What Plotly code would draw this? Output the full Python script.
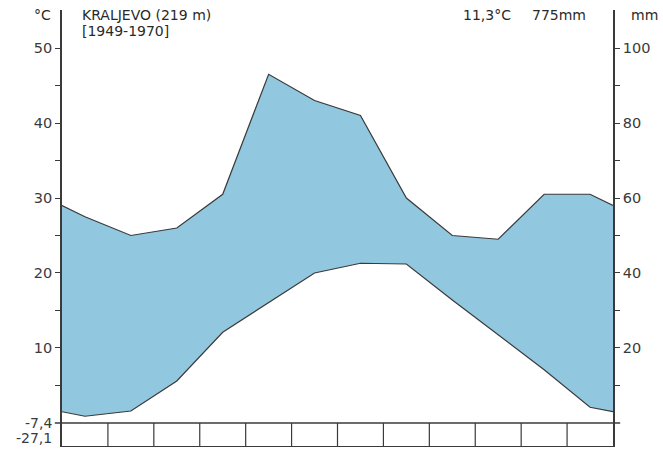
import plotly.graph_objects as go

# Monthly climate normals, Kraljevo (219 m), 1949-1970
months = ["Jan", "Feb", "Mar", "Apr", "May", "Jun", "Jul", "Aug", "Sep", "Oct", "Nov", "Dec"]
temp_c = [0.9, 1.6, 5.6, 12.1, 16.1, 20.0, 21.3, 21.2, 16.4, 11.7, 7.1, 2.1]
precip_mm = [55, 50, 52, 61, 93, 86, 82, 60, 50, 49, 61, 61]

station = "KRALJEVO (219 m)"
period = "[1949-1970]"
mean_temp = "11,3°C"
annual_precip = "775mm"
temp_ticks = [5, 10, 15, 20, 25, 30, 35, 40, 45, 50]
temp_labels = ["", "10", "", "20", "", "30", "", "40", "", "50"]
prec_ticks = [10, 20, 30, 40, 50, 60, 70, 80, 90, 100]
prec_labels = ["", "20", "", "40", "", "60", "", "80", "", "100"]
abs_min_label = "-27,1"
mean_min_label = "-7,4"

FONT = "DejaVu Sans"
INK = "#3a3a3a"
TXT = "#2a2a2a"
FILL = "#92c8df"

# Month centres, with the curve wrapped to both edges (Dec/Jan mean)
x = [0.0] + [i + 0.5 for i in range(12)] + [12.0]
t_edge = (temp_c[0] + temp_c[-1]) / 2
p_edge = (precip_mm[0] + precip_mm[-1]) / 2
t_line = [t_edge] + temp_c + [t_edge]
# precipitation shares the temperature axis at 10 °C = 20 mm
p_line = [v / 2 for v in [p_edge] + precip_mm + [p_edge]]

T_LO, T_HI = -3.07, 55.07

fig = go.Figure()
fig.add_trace(go.Scatter(x=x, y=t_line, mode="lines",
                         line=dict(color=INK, width=1.2), hoverinfo="skip"))
fig.add_trace(go.Scatter(x=x, y=p_line, mode="lines", fill="tonexty",
                         fillcolor=FILL, line=dict(color=INK, width=1.2),
                         hoverinfo="skip"))
# invisible trace to anchor the mm axis
fig.add_trace(go.Scatter(x=[None], y=[None], yaxis="y2", showlegend=False))

shapes = []
# 0-level baseline, slightly wider than the plot
shapes.append(dict(type="line", xref="paper", yref="y", x0=-0.013, x1=1.013,
                   y0=0, y1=0, line=dict(color=INK, width=1.3)))
# month boxes under the baseline
for i in range(1, 12):
    shapes.append(dict(type="line", xref="x", yref="y", x0=i, x1=i,
                       y0=T_LO, y1=0, line=dict(color=INK, width=1.2)))

W, H = 663, 453
L, R, Tm, B = 62, 50, 10, 7
pw, ph = W - L - R, H - Tm - B

# header texts placed in pixel terms
header = [
    ("°C", 32, 15, "left"),
    (station, 80, 15, "left"),
    (period, 80, 31.5, "left"),
    (mean_temp, 461, 15, "left"),
    (annual_precip, 588, 15, "right"),
    ("mm", 629, 15, "left"),
]
anns = []
for text, px, py, anchor in header:
    anns.append(dict(text=text, xref="paper", yref="paper",
                     x=(px - L) / pw, y=1 - (py - Tm) / ph,
                     xanchor=anchor, yanchor="middle", showarrow=False,
                     font=dict(family=FONT, size=14, color=TXT)))
anns.append(dict(text=mean_min_label, xref="paper", yref="y", x=-8 / pw, y=0,
                 xanchor="right", yanchor="middle", showarrow=False,
                 font=dict(family=FONT, size=14, color=INK)))
anns.append(dict(text=abs_min_label, xref="paper", yref="y", x=-8 / pw, y=-2.0,
                 xanchor="right", yanchor="middle", showarrow=False,
                 font=dict(family=FONT, size=14, color=INK)))

fig.update_layout(
    width=W, height=H,
    margin=dict(l=L, r=R, t=Tm, b=B),
    paper_bgcolor="white", plot_bgcolor="white",
    showlegend=False,
    font=dict(family=FONT, size=14.5, color=INK),
    xaxis=dict(range=[0, 12], showgrid=False, zeroline=False, showticklabels=False,
               ticks="", showline=True, linecolor=INK, linewidth=1.2),
    yaxis=dict(range=[T_LO, T_HI], showgrid=False, zeroline=False,
               tickvals=temp_ticks, ticktext=temp_labels, ticks="outside",
               ticklen=5, tickwidth=1.2, tickcolor=INK, showline=True,
               linecolor=INK, linewidth=1.6),
    yaxis2=dict(range=[2 * T_LO, 2 * T_HI], overlaying="y", side="right",
                showgrid=False, zeroline=False, tickvals=prec_ticks,
                ticktext=prec_labels, ticks="outside", ticklen=5, tickwidth=1.2,
                tickcolor=INK, showline=True, linecolor=INK, linewidth=1.6),
    shapes=shapes,
    annotations=anns,
)

fig.write_html("out.html")
